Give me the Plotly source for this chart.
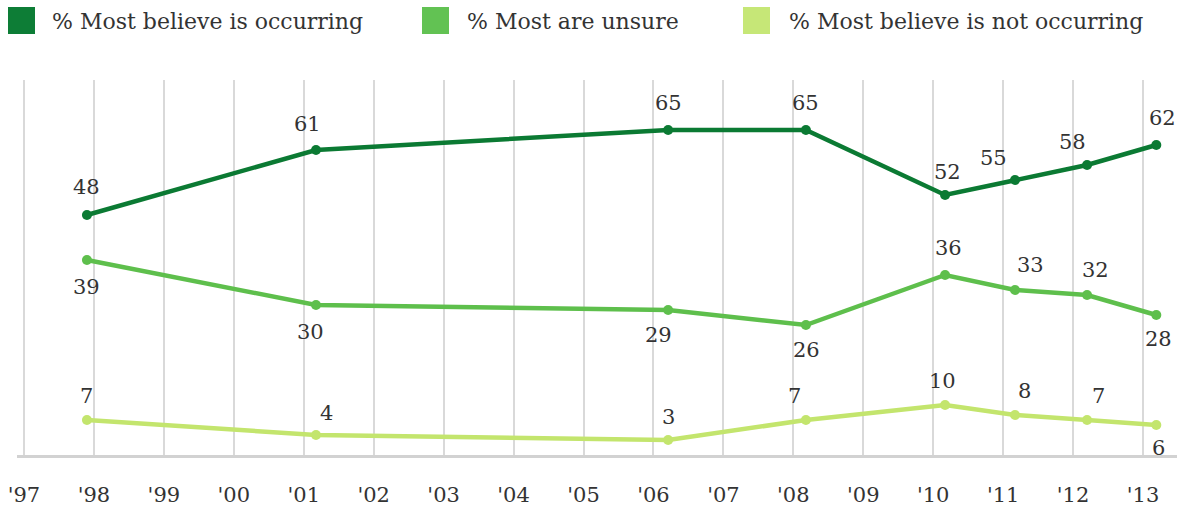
import plotly.graph_objects as go

# Survey dates as fractional years
survey_dates = [1997.90, 2001.175, 2006.21, 2008.18, 2010.17, 2011.17, 2012.20, 2013.19]

occurring = [48, 61, 65, 65, 52, 55, 58, 62]
unsure = [39, 30, 29, 26, 36, 33, 32, 28]
not_occurring = [7, 4, 3, 7, 10, 8, 7, 6]

series_names = [
    "% Most believe is occurring",
    "% Most are unsure",
    "% Most believe is not occurring",
]

year_ticks = list(range(1997, 2014))
year_labels = ["'" + str(y)[-2:] for y in year_ticks]

# label placement per point: (xshift px, yshift px)
occ_offsets = [(0, 28), (-8, 26), (0, 27), (0, 27), (2, 23), (-22, 22), (-15, 23), (6, 27)]
uns_offsets = [(0, -27), (-5, -27), (-10, -25), (1, -25), (3, 27), (15, 25), (8, 25), (2, -24)]
not_offsets = [(0, 24), (11, 22), (0, 23), (-11, 24), (-3, 24), (9, 24), (11, 24), (2, -23)]

colors = ["#0b7a33", "#5ebf4c", "#c3e56d"]
legend_colors = ["#0d7d36", "#62c253", "#c6e777"]

W, H = 1177, 512
L, R, T, B = 17, 0, 80, 57
X0, X1 = 1996.9, 2013.486

fig = go.Figure()

for vals, col in [(not_occurring, colors[2]), (unsure, colors[1]), (occurring, colors[0])]:
    fig.add_trace(go.Scatter(
        x=survey_dates, y=vals, mode="lines+markers",
        line=dict(color=col, width=4.5),
        marker=dict(color=col, size=10),
        showlegend=False, hoverinfo="skip",
    ))

font_family = "DejaVu Serif"
label_font = dict(family=font_family, size=21, color="#333333")

annotations = []
for vals, offs in [(occurring, occ_offsets), (unsure, uns_offsets), (not_occurring, not_offsets)]:
    for x, v, (dx, dy) in zip(survey_dates, vals, offs):
        annotations.append(dict(
            x=x, y=v, xref="x", yref="y", text=str(v), showarrow=False,
            xshift=dx, yshift=dy, font=label_font,
            xanchor="center", yanchor="middle",
        ))

# Legend drawn as squares + text in pixel positions converted to paper coords
pw = W - L - R
ph = H - T - B


def px_x(p):
    return (p - L) / pw


def px_y(p):
    return 1 - (p - T) / ph


shapes = []
legend_items = [(8, 50), (422, 465), (743, 787)]
for (sq_x, txt_x), name, col in zip(legend_items, series_names, legend_colors):
    shapes.append(dict(
        type="rect", xref="paper", yref="paper",
        x0=px_x(sq_x), x1=px_x(sq_x + 27), y0=px_y(34), y1=px_y(7),
        fillcolor=col, line=dict(width=0),
    ))
    annotations.append(dict(
        x=px_x(txt_x), y=px_y(21), xref="paper", yref="paper",
        text=name, showarrow=False, xanchor="left", yanchor="middle",
        font=dict(family=font_family, size=22, color="#333333"),
    ))

fig.update_layout(
    width=W, height=H,
    margin=dict(l=L, r=R, t=T, b=B),
    paper_bgcolor="white", plot_bgcolor="white",
    shapes=shapes, annotations=annotations,
    xaxis=dict(
        range=[X0, X1], tickmode="array", tickvals=year_ticks, ticktext=year_labels,
        showgrid=True, gridcolor="#d9d9d9", gridwidth=1.5,
        showline=True, linecolor="#d2d2d2", linewidth=3,
        ticks="outside", ticklen=19, tickcolor="rgba(0,0,0,0)",
        tickfont=dict(family=font_family, size=21, color="#333333"),
        zeroline=False, fixedrange=True,
    ),
    yaxis=dict(
        range=[0, 75], showgrid=False, zeroline=False, showticklabels=False,
        showline=False, fixedrange=True,
    ),
)

fig.write_html("out.html")
